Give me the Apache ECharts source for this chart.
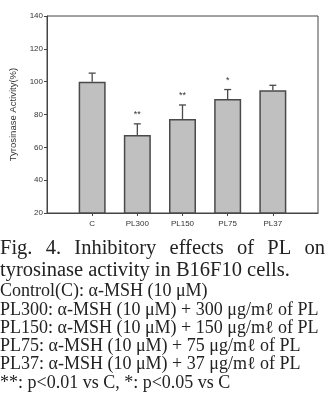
<!DOCTYPE html>
<html>
<head>
<meta charset="utf-8">
<script src="https://cdn.jsdelivr.net/npm/echarts@6/dist/echarts.min.js"></script>
<style>
html,body{margin:0;padding:0;background:#fff;}
#main{width:328px;height:400px;}
</style>
</head>
<body>
<div id="main"></div>
<script>
// categories (blank ones pad the axis ends)
var categories = ['', 'C', 'PL300', 'PL150', 'PL75', 'PL37', ''];
var means = [null, 100, 67.5, 77.3, 89.5, 94.8, null];
var errors = [null, 5.2, 6.8, 8.5, 5.7, 3.0, null];
var marks = ['', '', '**', '**', '*', '', ''];
var yTicks = {min: 20, max: 140, step: 20};
var captionBig = ['Fig. 4. Inhibitory effects of PL on', 'tyrosinase activity in B16F10 cells.'];
var captionSmall = [
  'Control(C): α-MSH (10 μM)',
  'PL300: α-MSH (10 μM) + 300 μg/mℓ of PL',
  'PL150: α-MSH (10 μM) + 150 μg/mℓ of PL',
  'PL75: α-MSH (10 μM) + 75 μg/mℓ of PL',
  'PL37: α-MSH (10 μM) + 37 μg/mℓ of PL',
  '**: p<0.01 vs C, *: p<0.05 vs C'
];

var myChart = echarts.init(document.getElementById('main'));

var errData = [];
for (var i = 0; i < categories.length; i++) {
  if (means[i] != null) errData.push([i, means[i], errors[i], marks[i]]);
}

var bigFont = '20.5px "Liberation Serif", serif';
var smallFont = '18px "Liberation Serif", serif';
var ctx = document.createElement('canvas').getContext('2d');

var graphics = [];
// first caption line is justified to full width
(function () {
  ctx.font = bigFont;
  var words = captionBig[0].split(' ');
  var widths = words.map(function (w) { return ctx.measureText(w).width; });
  var total = widths.reduce(function (a, b) { return a + b; }, 0);
  var gap = (325 - total) / (words.length - 1);
  var x = 0;
  words.forEach(function (w, k) {
    graphics.push({type: 'text', x: x, y: 248.5,
      style: {text: w, font: bigFont, fill: '#222', verticalAlign: 'middle'}});
    x += widths[k] + gap;
  });
})();
graphics.push({type: 'text', x: 0, y: 270.5,
  style: {text: captionBig[1], font: bigFont, fill: '#222', verticalAlign: 'middle'}});
captionSmall.forEach(function (t, k) {
  graphics.push({type: 'text', x: 0, y: 291.5 + k * 18.3,
    style: {text: t, font: smallFont, fill: '#222', verticalAlign: 'middle'}});
});

myChart.setOption({
  animation: false,
  grid: {left: 37, right: 10, top: 16, bottom: 187, show: true, borderColor: '#444', borderWidth: 1},
  xAxis: {
    type: 'category',
    data: categories,
    boundaryGap: false,
    axisLine: {lineStyle: {color: '#444'}},
    axisTick: {length: 3, lineStyle: {color: '#444'},
      interval: function (idx, val) { return val !== ''; }},
    axisLabel: {fontSize: 8, color: '#333', fontFamily: 'Liberation Sans', margin: 7, interval: 0},
    splitLine: {show: false}
  },
  yAxis: {
    type: 'value',
    min: yTicks.min, max: yTicks.max, interval: yTicks.step,
    name: 'Tyrosinase Activity(%)',
    nameLocation: 'middle',
    nameGap: 29,
    nameTextStyle: {fontSize: 9.5, color: '#333', fontFamily: 'Liberation Sans'},
    axisLine: {show: true, lineStyle: {color: '#444'}},
    axisTick: {show: true, length: 3, lineStyle: {color: '#444'}},
    axisLabel: {fontSize: 8, color: '#333', fontFamily: 'Liberation Sans', margin: 4},
    splitLine: {show: false}
  },
  series: [
    {
      type: 'bar',
      data: means,
      barWidth: 27,
      itemStyle: {color: '#c0c0c0', borderColor: '#4a4a4a', borderWidth: 1.5},
      z: 2
    },
    {
      type: 'custom',
      data: errData,
      z: 3,
      renderItem: function (params, api) {
        var x = api.value(0), m = api.value(1), e = api.value(2);
        var p0 = api.coord([x, m]);
        var p1 = api.coord([x, m + e]);
        var mark = marks[x];
        var children = [
          {type: 'line', shape: {x1: p0[0], y1: p0[1], x2: p1[0], y2: p1[1]}, style: {stroke: '#4a4a4a', lineWidth: 1.3}},
          {type: 'line', shape: {x1: p1[0] - 3.5, y1: p1[1], x2: p1[0] + 3.5, y2: p1[1]}, style: {stroke: '#4a4a4a', lineWidth: 1.3}}
        ];
        if (mark) {
          children.push({type: 'text', x: p1[0], y: p1[1] - 9,
            style: {text: mark, font: '9px Liberation Sans', fill: '#333', align: 'center', verticalAlign: 'middle'}});
        }
        return {type: 'group', children: children};
      }
    }
  ],
  graphic: graphics
});
</script>
</body>
</html>
